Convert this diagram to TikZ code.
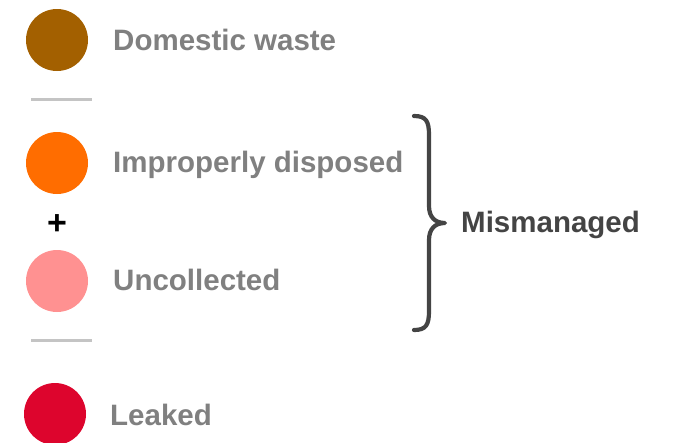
\documentclass[tikz,border=0pt]{standalone}
\usepackage{fontspec}
\setmainfont{Liberation Sans}
\definecolor{cbrown}{HTML}{A36000}
\definecolor{corange}{HTML}{FF6D00}
\definecolor{cpink}{HTML}{FF9191}
\definecolor{cred}{HTML}{DD052D}
\definecolor{ctext}{HTML}{808080}
\definecolor{cdark}{HTML}{444444}
\definecolor{crule}{HTML}{C4C4C4}
\begin{document}
\begin{tikzpicture}[x=1pt,y=-1pt,
  dot/.style={circle,inner sep=0pt,minimum size=62pt,draw=none},
  lbl/.style={anchor=base west,inner sep=0pt,text=ctext,font=\fontsize{29.5}{32}\selectfont\bfseries},
  sep/.style={draw=crule,line width=3pt},
  brace/.style={draw=cdark,line width=4.2pt,line cap=round,line join=round}]
\useasboundingbox (0,0) rectangle (683,442);
\clip (0,0) rectangle (683,442);
\node[dot,fill=cbrown] (c1) at (57,40) {};
\node[dot,fill=corange] (c2) at (57,163) {};
\node[dot,fill=cpink] (c3) at (57,281) {};
\node[dot,fill=cred] (c4) at (55,414) {};
\node[lbl] (t1) at (113,50) {Domestic waste};
\node[lbl] (t2) at (113,172) {Improperly disposed};
\node[lbl] (t3) at (113,290) {Uncollected};
\node[lbl] (t4) at (110,425) {Leaked};
\node[anchor=base,inner sep=0pt,font=\fontsize{34}{36}\selectfont\bfseries] (plus) at (57,234) {+};
\coordinate (r1a) at (31,99); \coordinate (r1b) at (92,99);
\coordinate (r2a) at (31,340); \coordinate (r2b) at (92,340);
\draw[sep] (r1a) -- (r1b);
\draw[sep] (r2a) -- (r2b);
\coordinate (bt) at (414,116);
\coordinate (bb) at (414,330);
\coordinate (tip) at (445,223);
\draw[brace] (bt) .. controls (426,116) and (429,121) .. (429,135) -- (429,206)
  .. controls (429,217) and (435,223) .. (tip)
  .. controls (435,223) and (429,229) .. (429,240) -- (429,311)
  .. controls (429,325) and (426,330) .. (bb);
\node[lbl,text=cdark] (mm) at (461,232) {Mismanaged};
\end{tikzpicture}
\end{document}
